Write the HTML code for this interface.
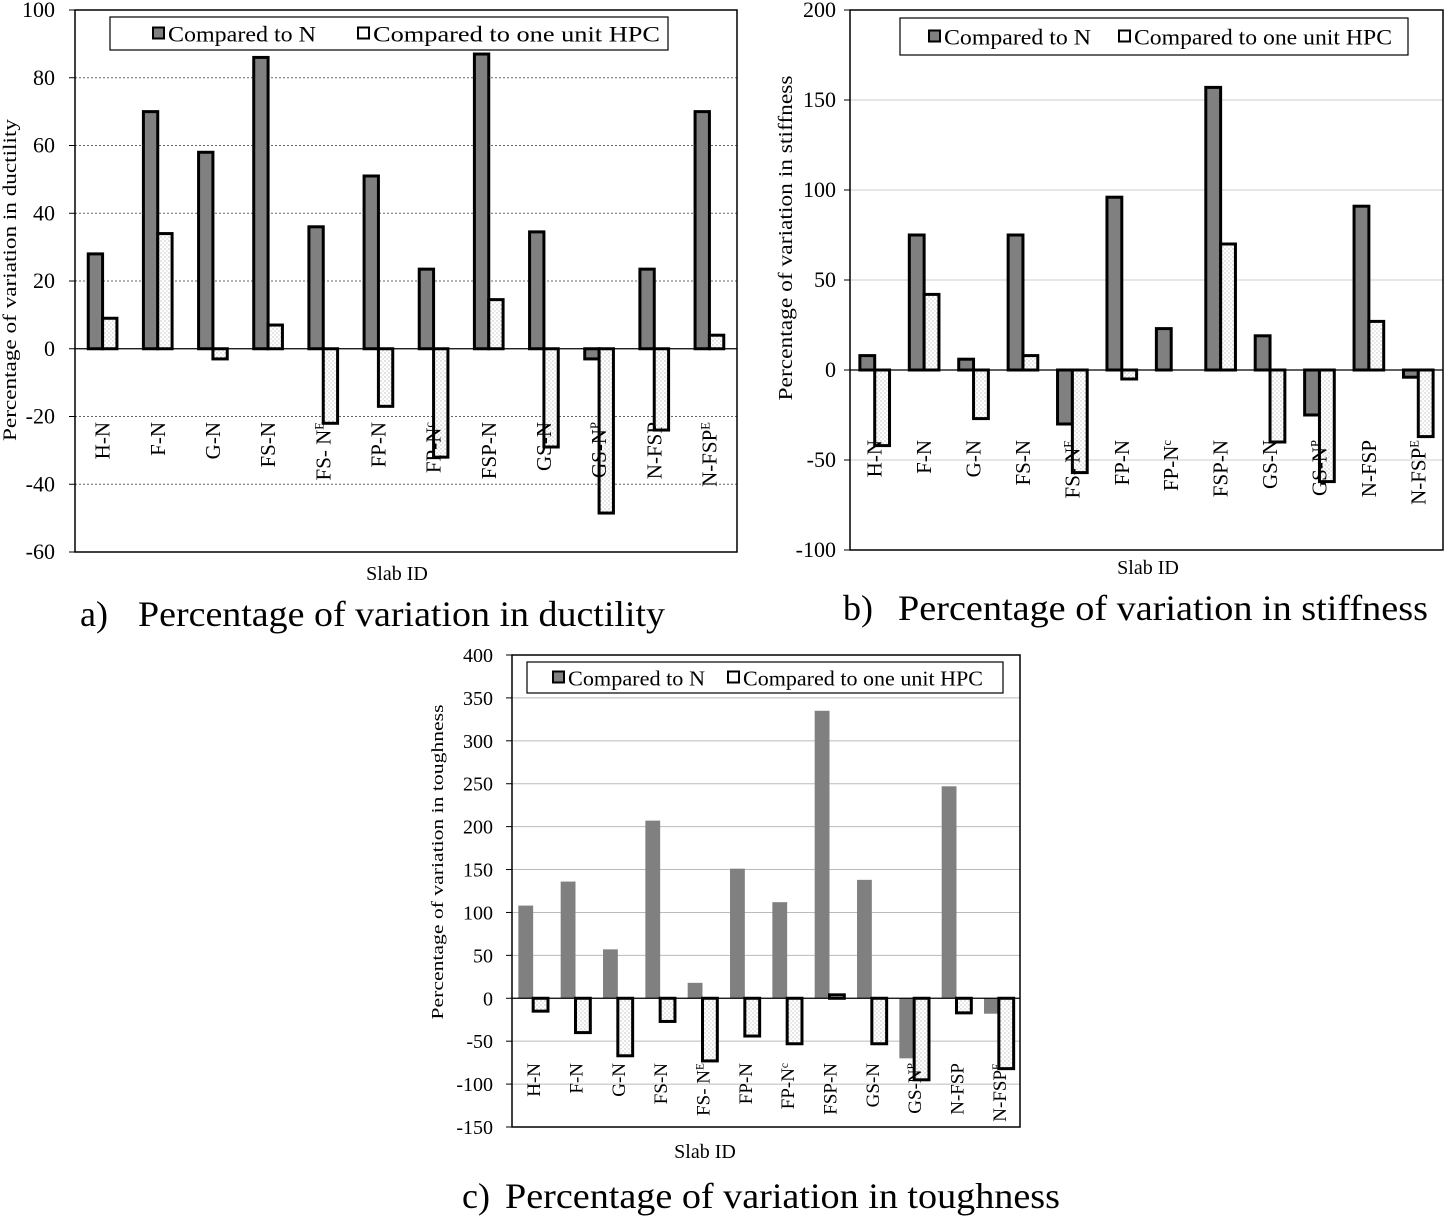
<!DOCTYPE html>
<html><head><meta charset="utf-8"><style>
html,body{margin:0;padding:0;background:#fff;}
svg{display:block;font-family:"Liberation Serif",serif;}
</style></head><body>
<svg id="fig" width="1451" height="1220" viewBox="0 0 1451 1220"></svg>
<script>
const categories=["H-N","F-N","G-N","FS-N","FS- N|E","FP-N","FP-N|c","FSP-N","GS-N","GS-N|P","N-FSP","N-FSP|E"];
const ductN=[28,70,58,86,36,51,23.5,87,34.5,-3,23.5,70];
const ductH=[9,34,-3,7,-22,-17,-32,14.5,-29,-48.5,-24,4];
const stiffN=[8,75,6,75,-30,96,23,157,19,-25,91,-4];
const stiffH=[-42,42,-27,8,-57,-5,0,70,-40,-62,27,-37];
const toughN=[108,136,57,207,18,151,112,335,138,-70,247,-18];
const toughH=[-15,-40,-67,-27,-73,-44,-53,4,-53,-95,-17,-82];
const ticksA=[100,80,60,40,20,0,-20,-40,-60];
const ticksB=[200,150,100,50,0,-50,-100];
const ticksC=[400,350,300,250,200,150,100,50,0,-50,-100,-150];
const NS="http://www.w3.org/2000/svg";
const svg=document.getElementById('fig');
function el(t,a,p){const e=document.createElementNS(NS,t);for(const k in a)e.setAttribute(k,a[k]);(p||svg).appendChild(e);return e;}
const defs=el('defs',{});
const pat=el('pattern',{id:'dots',width:4,height:4,patternUnits:'userSpaceOnUse'},defs);
el('rect',{width:4,height:4,fill:'#fff'},pat);
el('circle',{cx:1,cy:1,r:0.7,fill:'#bbb'},pat);
el('circle',{cx:3,cy:3,r:0.7,fill:'#ccc'},pat);

function chart(o){
  const g=el('g',{});
  
  
  const ymin=o.ticks[o.ticks.length-1], ymax=o.ticks[0];
  const y=v=>o.top+(ymax-v)/(ymax-ymin)*(o.bottom-o.top);
  const pitch=(o.right-o.left)/categories.length;
  const x=i=>o.left+pitch*(i+0.5);
  o.ticks.forEach(t=>{
    if(t!==ymin&&t!==ymax&&t!==0){
      const gl=el('line',{x1:o.left,x2:o.right,y1:y(t),y2:y(t),stroke:o.gridColor,'stroke-width':1,'stroke-dasharray':o.dash||'none'},g);
      
      
    }
    const tl=el('text',{x:o.left-o.tickGap,y:y(t)+7,'text-anchor':'end','font-size':o.tickSize},g);
    tl.textContent=t;
    
    
    el('line',{x1:o.left-6,x2:o.left,y1:y(t),y2:y(t),stroke:'#000'},g);
  });
  const fr=el('rect',{x:o.left,y:o.top,width:o.right-o.left,height:o.bottom-o.top,fill:'none',stroke:'#000','stroke-width':1.5},g);
  
  
  const bw=pitch*o.bwf;
  categories.forEach((c,i)=>{
    const vn=o.n[i], vh=o.h[i];
    const b1=el('rect',{x:x(i)-bw,y:Math.min(y(vn),y(0)),width:bw,height:Math.abs(y(vn)-y(0)),fill:'#808080',stroke:o.darkStroke?'#000':'none','stroke-width':3},g);
    
    
    const b2=el('rect',{x:x(i),y:Math.min(y(vh),y(0)),width:bw,height:Math.abs(y(vh)-y(0)),fill:'url(#dots)',stroke:'#000','stroke-width':3},g);
    
    
    const parts=c.split('|');
    const tx=el('text',{transform:`translate(${x(i)+7},${o.labelY}) rotate(-90)`,'text-anchor':'end','font-size':o.catSize},g);
    const t1=el('tspan',{},tx);t1.textContent=parts[0];
    if(parts[1]){const t2=el('tspan',{'baseline-shift':'super','font-size':o.catSize*0.6},tx);t2.textContent=parts[1];}
    
    
  });
  el('line',{x1:o.left,x2:o.right,y1:y(0),y2:y(0),stroke:'#000','stroke-width':1.2},g);
  const lg=el('g',{},g);
  
  
  const L=o.legend;
  el('rect',{x:L[0],y:L[1],width:L[2],height:L[3],fill:'#fff',stroke:'#000','stroke-width':1.2},lg);
  const cy=L[1]+L[3]/2;
  el('rect',{x:L[4],y:cy-6,width:11,height:11,fill:'#808080',stroke:'#000','stroke-width':2},lg);
  const lt1=el('text',{x:L[4]+15,y:cy+8,'font-size':o.legSize,textLength:L[6],lengthAdjust:'spacingAndGlyphs'},lg);lt1.textContent='Compared to N';
  
  
  el('rect',{x:L[5],y:cy-6,width:11,height:11,fill:'#fff',stroke:'#000','stroke-width':2},lg);
  const lt2=el('text',{x:L[5]+15,y:cy+8,'font-size':o.legSize,textLength:L[7],lengthAdjust:'spacingAndGlyphs'},lg);lt2.textContent='Compared to one unit HPC';
  
  
  const yt=el('text',{transform:`translate(${o.ytX},${o.ytY}) rotate(-90)`,'text-anchor':'middle','font-size':o.ytSize,textLength:o.ytLen,lengthAdjust:'spacingAndGlyphs'},g);
  yt.textContent=o.ytitle;
  
  
  const xt=el('text',{x:o.xtX,y:o.xtY,'text-anchor':'middle','font-size':20},g);
  xt.textContent='Slab ID';
  
  
  const cg=el('g',{},g);
  
  
  const c1=el('text',{x:o.capX,y:o.capY,'font-size':36},cg);
  c1.textContent=o.capLetter;
  const c2=el('text',{x:o.capX2,y:o.capY,'font-size':36,textLength:o.capLen,lengthAdjust:'spacingAndGlyphs'},cg);
  c2.textContent=o.caption;
}
chart({name:'ductility-chart',left:75,right:737,top:10,bottom:552,ticks:ticksA,n:ductN,h:ductH,gridColor:'#666',dash:'2,2',darkStroke:true,bwf:0.26,
  tickSize:22,tickGap:20,catSize:21,labelY:422,legend:[110,17,558,33,153,358,148,287],legSize:22,ytitle:'Percentage  of variation  in ductility',ytX:16,ytY:280,ytSize:19,ytLen:322,
  xtX:397,xtY:580,capLetter:'a)',capX:80,caption:'Percentage of variation in ductility',capX2:138,capLen:527,capY:626});
chart({name:'stiffness-chart',left:850,right:1443,top:10,bottom:550,ticks:ticksB,n:stiffN,h:stiffH,gridColor:'#ccc',darkStroke:true,bwf:0.3,
  tickSize:22,tickGap:14,catSize:21,labelY:440,legend:[900,18,508,37,929,1119,147,258],legSize:22,ytitle:'Percentage  of variation  in stiffness',ytX:792,ytY:238,ytSize:20,ytLen:325,
  xtX:1148,xtY:574,capLetter:'b)',capX:843,caption:'Percentage of variation in stiffness',capX2:898,capLen:530,capY:620});
chart({name:'toughness-chart',left:512,right:1020,top:655,bottom:1127,ticks:ticksC,n:toughN,h:toughH,gridColor:'#bbb',darkStroke:false,bwf:0.35,
  tickSize:20,tickGap:19,catSize:19,labelY:1063,legend:[527,662,476,31,553,728,137,240],legSize:21,ytitle:'Percentage  of variation  in toughness',ytX:443,ytY:862,ytSize:17,ytLen:315,
  xtX:705,xtY:1158,capLetter:'c)',capX:462,caption:'Percentage of variation in toughness',capX2:505,capLen:555,capY:1208});
</script>
</body></html>
